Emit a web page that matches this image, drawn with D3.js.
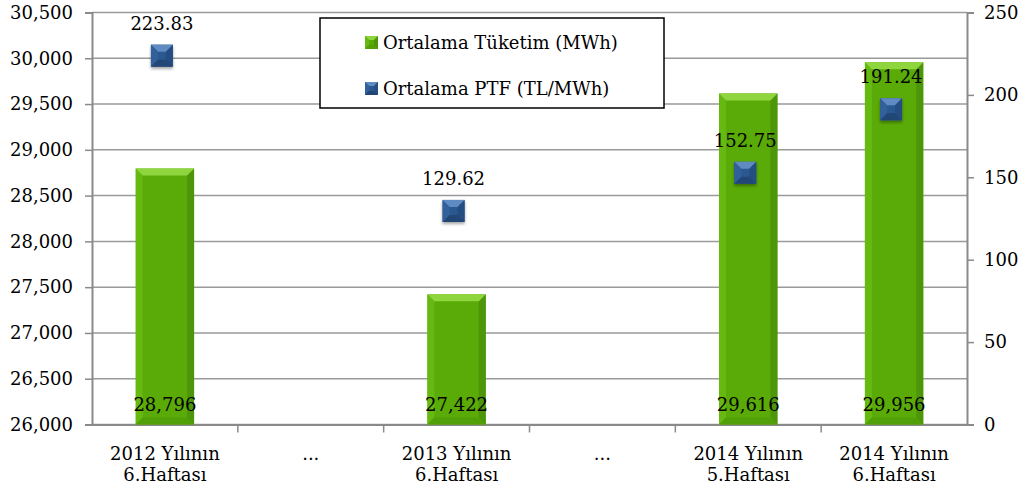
<!DOCTYPE html>
<html>
<head>
<meta charset="utf-8">
<script src="https://cdn.jsdelivr.net/npm/d3@7"></script>
<style>
  body { margin: 0; background: #fff; }
  svg text { font-family: "DejaVu Serif", serif; fill: #000; }
</style>
</head>
<body>
<svg id="chart" width="1021" height="496"></svg>
<script>
// Chart data
const categories = [
  ["2012 Yılının", "6.Haftası"],
  ["..."],
  ["2013 Yılının", "6.Haftası"],
  ["...", ""],
  ["2014 Yılının", "5.Haftası"],
  ["2014 Yılının", "6.Haftası"]
];
const consumption = [28796, null, 27422, null, 29616, 29956];
const ptf = [223.83, null, 129.62, null, 152.75, 191.24];
const leftTicks = [26000, 26500, 27000, 27500, 28000, 28500, 29000, 29500, 30000, 30500];
const rightTicks = [0, 50, 100, 150, 200, 250];
const legendLabels = ["Ortalama Tüketim (MWh)", "Ortalama PTF (TL/MWh)"];

const svg = d3.select("#chart");
const margin = { top: 12.5, right: 54, bottom: 71.5, left: 92 };
const width = 1021 - margin.left - margin.right;
const height = 496 - margin.top - margin.bottom;

const fmt = d3.format(",");
const idx = d3.range(categories.length);

// Scales
const x = d3.scaleBand().domain(idx).range([0, width]);
const yLeft = d3.scaleLinear().domain([26000, 30500]).range([height, 0]);
const yRight = d3.scaleLinear().domain([0, 250]).range([height, 0]);

const defs = svg.append("defs");
const shadow = defs.append("filter").attr("id", "shadow")
  .attr("x", "-50%").attr("y", "-50%").attr("width", "200%").attr("height", "200%");
shadow.append("feDropShadow")
  .attr("dx", 0).attr("dy", 2).attr("stdDeviation", 1.6)
  .attr("flood-color", "#000").attr("flood-opacity", 0.35);

const g = svg.append("g").attr("transform", `translate(${margin.left},${margin.top})`);

// Gridlines
g.append("g").selectAll("line")
  .data(leftTicks)
  .join("line")
  .attr("x1", 0).attr("x2", width)
  .attr("y1", d => yLeft(d)).attr("y2", d => yLeft(d))
  .attr("stroke", "#9a9a9a").attr("stroke-width", 1.5);

// Left axis
const leftAxis = g.append("g")
  .call(d3.axisLeft(yLeft).tickValues(leftTicks).tickFormat(fmt).tickSize(7).tickPadding(12));
// Right axis
const rightAxis = g.append("g").attr("transform", `translate(${width},0)`)
  .call(d3.axisRight(yRight).tickValues(rightTicks).tickSize(7).tickPadding(10));
// Bottom axis
const bottomAxis = g.append("g").attr("transform", `translate(0,${height})`)
  .call(d3.axisBottom(x).tickSize(0).tickFormat(""));

[leftAxis, rightAxis, bottomAxis].forEach(a => {
  a.select(".domain").attr("stroke", "#8a8a8a").attr("stroke-width", 2);
  a.selectAll(".tick line").attr("stroke", "#8a8a8a").attr("stroke-width", 1.5);
  a.selectAll("text").style("font-size", "18px").attr("fill", "#000");
});

// Category separator ticks
g.append("g").selectAll("line")
  .data(idx.slice(1))
  .join("line")
  .attr("x1", d => x(d)).attr("x2", d => x(d))
  .attr("y1", height).attr("y2", height + 8)
  .attr("stroke", "#8a8a8a").attr("stroke-width", 1.5);

// Category labels
const catLabels = g.append("g").selectAll("text")
  .data(idx)
  .join("text")
  .attr("x", d => x(d) + x.bandwidth() / 2)
  .attr("y", height + 35)
  .attr("text-anchor", "middle")
  .style("font-size", "18px");
catLabels.each(function(d) {
  const t = d3.select(this);
  categories[d].forEach((line, i) => {
    t.append("tspan")
      .attr("x", x(d) + x.bandwidth() / 2)
      .attr("dy", i === 0 ? 0 : 21)
      .text(line);
  });
});

// Bars with bevel
const barW = x.bandwidth() * 0.4;
const bev = 7;
const barData = idx.filter(i => consumption[i] != null);
const bars = g.append("g").selectAll("g")
  .data(barData)
  .join("g")
  .attr("transform", d => `translate(${x(d) + (x.bandwidth() - barW) / 2},${yLeft(consumption[d])})`);

bars.each(function(d) {
  const b = d3.select(this);
  const h = height - yLeft(consumption[d]);
  b.append("rect").attr("width", barW).attr("height", h).attr("fill", "#5aaa08");
  // left face
  b.append("polygon")
    .attr("points", `0,0 ${bev},${bev} ${bev},${h - bev} 0,${h}`)
    .attr("fill", "#66b910");
  // right face
  b.append("polygon")
    .attr("points", `${barW},0 ${barW - bev},${bev} ${barW - bev},${h - bev} ${barW},${h}`)
    .attr("fill", "#4d960a");
  // top face
  b.append("polygon")
    .attr("points", `0,0 ${barW},0 ${barW - bev},${bev} ${bev},${bev}`)
    .attr("fill", "#8fd63e");
  // bottom face
  b.append("polygon")
    .attr("points", `0,${h} ${barW},${h} ${barW - bev},${h - bev} ${bev},${h - bev}`)
    .attr("fill", "#52a008");
});

// Bar value labels
g.append("g").selectAll("text")
  .data(barData)
  .join("text")
  .attr("x", d => x(d) + x.bandwidth() / 2)
  .attr("y", height - 14)
  .attr("text-anchor", "middle")
  .style("font-size", "18px")
  .text(d => fmt(consumption[d]));

// PTF markers
const mSize = 22;
const mBev = 7;
function drawMarker(sel, s, bv) {
  sel.append("rect").attr("width", s).attr("height", s).attr("fill", "#2c5890");
  sel.append("polygon").attr("points", `0,0 ${s},0 ${s - bv},${bv} ${bv},${bv}`).attr("fill", "#5f8bc2");
  sel.append("polygon").attr("points", `0,0 ${bv},${bv} ${bv},${s - bv} 0,${s}`).attr("fill", "#33609a");
  sel.append("polygon").attr("points", `${s},0 ${s - bv},${bv} ${s - bv},${s - bv} ${s},${s}`).attr("fill", "#254e82");
  sel.append("polygon").attr("points", `0,${s} ${s},${s} ${s - bv},${s - bv} ${bv},${s - bv}`).attr("fill", "#214676");
}
const ptfData = idx.filter(i => ptf[i] != null);
const markers = g.append("g").selectAll("g")
  .data(ptfData)
  .join("g")
  .attr("filter", "url(#shadow)")
  .attr("transform", d => `translate(${x(d) + x.bandwidth() / 2 - 3 - mSize / 2},${yRight(ptf[d]) - mSize / 2})`);
markers.each(function() { drawMarker(d3.select(this), mSize, mBev); });

g.append("g").selectAll("text")
  .data(ptfData)
  .join("text")
  .attr("x", d => x(d) + x.bandwidth() / 2 - 3)
  .attr("y", d => yRight(ptf[d]) - 26)
  .attr("text-anchor", "middle")
  .style("font-size", "18px")
  .text(d => ptf[d].toFixed(2));

// Legend
const legend = svg.append("g").attr("transform", "translate(320,18)");
legend.append("rect")
  .attr("width", 344).attr("height", 90)
  .attr("fill", "#fff").attr("stroke", "#000").attr("stroke-width", 1.5);
const legendColors = [
  ["#5aaa08", "#8fd63e", "#66b910", "#4d960a", "#52a008"],
  ["#2c5890", "#5f8bc2", "#33609a", "#254e82", "#214676"]
];
legendLabels.forEach((label, i) => {
  const item = legend.append("g").attr("transform", `translate(45,${18 + i * 46})`);
  const c = legendColors[i];
  const s = 13, bv = 4;
  const sw = item.append("g");
  sw.append("rect").attr("width", s).attr("height", s).attr("fill", c[0]);
  sw.append("polygon").attr("points", `0,0 ${s},0 ${s - bv},${bv} ${bv},${bv}`).attr("fill", c[1]);
  sw.append("polygon").attr("points", `0,0 ${bv},${bv} ${bv},${s - bv} 0,${s}`).attr("fill", c[2]);
  sw.append("polygon").attr("points", `${s},0 ${s - bv},${bv} ${s - bv},${s - bv} ${s},${s}`).attr("fill", c[3]);
  sw.append("polygon").attr("points", `0,${s} ${s},${s} ${s - bv},${s - bv} ${bv},${s - bv}`).attr("fill", c[4]);
  item.append("text")
    .attr("x", 18).attr("y", s / 2)
    .attr("dy", "0.35em")
    .style("font-size", "18px")
    .text(label);
});
</script>
</body>
</html>
